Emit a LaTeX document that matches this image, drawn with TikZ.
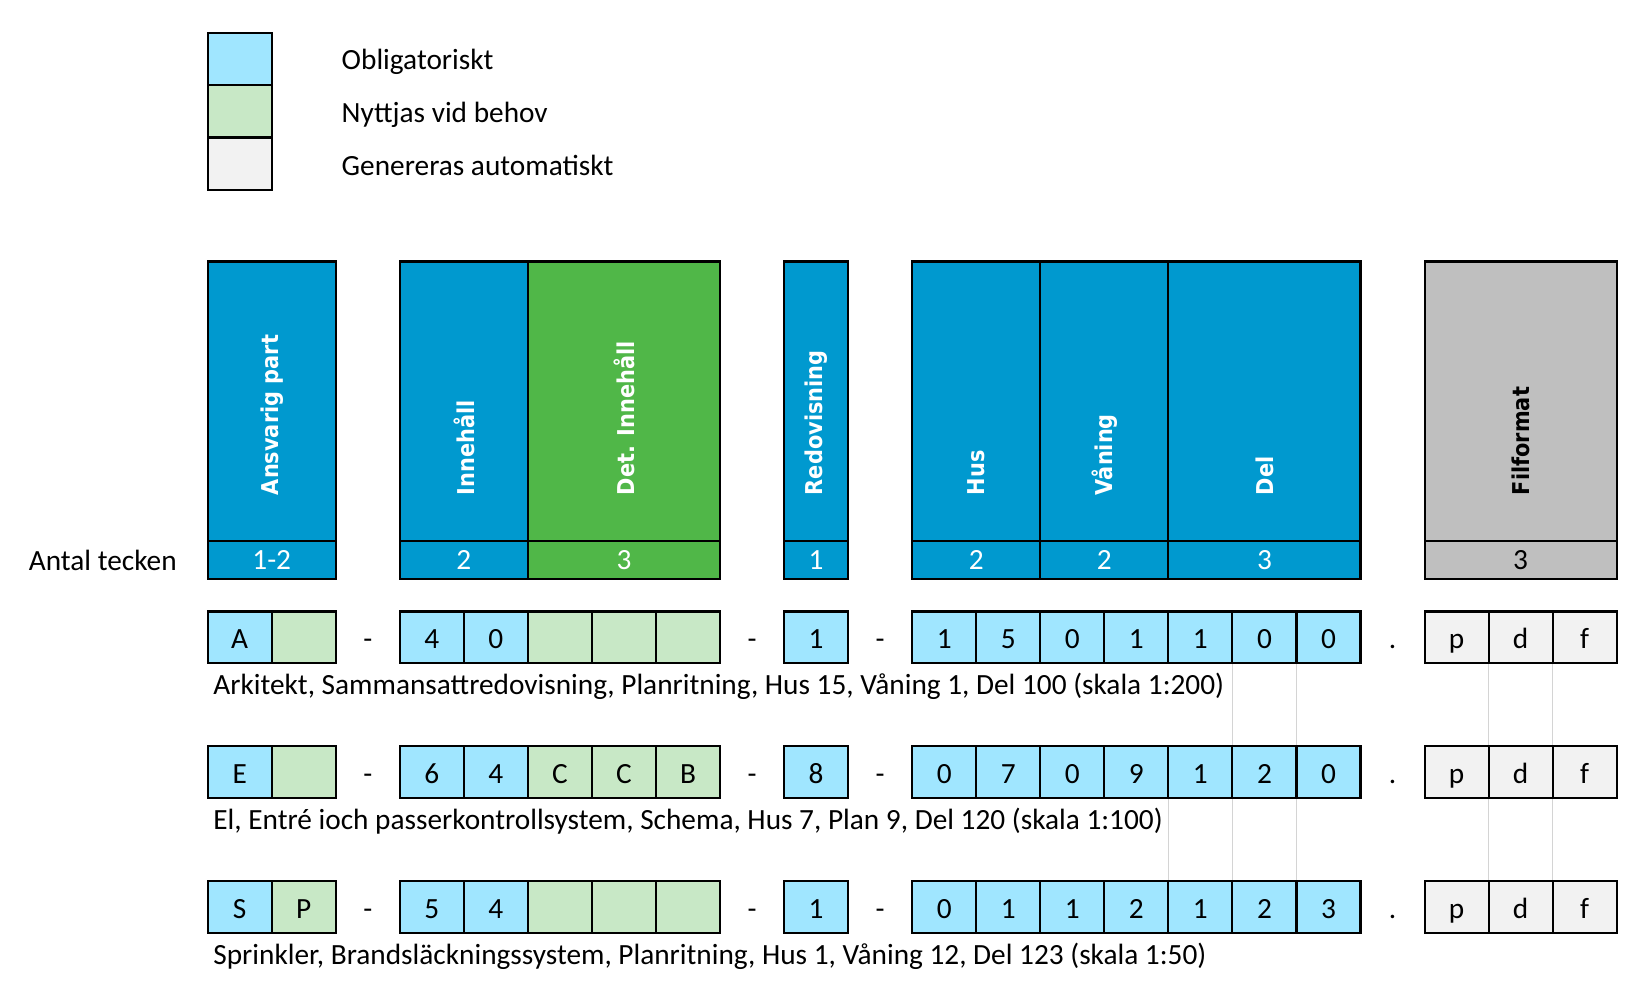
\documentclass[tikz,border=0pt]{standalone}
\usepackage{fontspec}
\setmainfont{Carlito}
\newfontfamily\hdrfont[FakeStretch=0.9]{DejaVu Sans}

\definecolor{darkblue}{RGB}{0,153,207}
\definecolor{darkgreen}{RGB}{80,183,72}
\definecolor{darkgray}{RGB}{191,191,191}
\definecolor{lightblue}{RGB}{160,230,255}
\definecolor{lightgreen}{RGB}{200,232,198}
\definecolor{lightgray}{RGB}{242,242,242}
\definecolor{gridgray}{RGB}{212,212,212}

\tikzset{
    cell/.style={draw=black, line width=1pt, minimum width=30.375pt, minimum height=24.5pt,
        inner sep=0pt, outer sep=0pt, text height=10.7pt, text depth=0pt},
    fillmand/.style={fill=lightblue},
    fillopt/.style={fill=lightgreen},
    fillgen/.style={fill=lightgray},
    hblock/.style={draw=black, line width=1pt, inner sep=0pt, outer sep=0pt,
        anchor=north west, minimum height=132.5pt},
    hcount/.style={draw=black, line width=1pt, inner sep=0pt, outer sep=0pt,
        anchor=north west, minimum height=18pt, text=white},
    hlabel/.style={rotate=90, anchor=west, inner sep=0pt, text=white,
        font=\hdrfont\bfseries\fontsize{11}{13}\selectfont},
    sepchar/.style={inner sep=0pt, text height=10.7pt, text depth=0pt},
    desc/.style={anchor=base west, inner sep=0pt},
    plain/.style={anchor=west, inner sep=0pt},
    gridln/.style={draw=gridgray, line width=0.5pt}
}

\begin{document}
\begin{tikzpicture}[x=0.5pt, y=-0.5pt, font=\fontsize{13.9}{16}\selectfont]
    \useasboundingbox (0,0) rectangle (1567,953);

    % legend
    \node[cell, fillmand, minimum height=24.85pt, anchor=north west] (leg1) at (197,31) {};
    \node[cell, fillopt, minimum height=24.85pt, anchor=north west] (leg2) at (leg1.south west) {};
    \node[cell, fillgen, minimum height=24.85pt, anchor=north west] (leg3) at (leg2.south west) {};
    \node[plain] (leg1t) at ([xshift=33pt, yshift=-1.5pt]leg1.east) {Obligatoriskt};
    \node[plain] (leg2t) at ([xshift=33pt, yshift=-1.5pt]leg2.east) {Nyttjas vid behov};
    \node[plain] (leg3t) at ([xshift=33pt, yshift=-1pt]leg3.east) {Genereras automatiskt};

    % header blocks
    \node[hblock, fill=darkblue, minimum width=60.75pt] (ansvarig) at (197,248) {};
    \node[hblock, fill=darkblue, minimum width=60.75pt] (innehall) at (379.25,248) {};
    \node[hblock, fill=darkgreen, minimum width=91.125pt] (detinnehall) at (innehall.north east) {};
    \node[hblock, fill=darkblue, minimum width=30.375pt] (redovisning) at (743.75,248) {};
    \node[hblock, fill=darkblue, minimum width=60.75pt] (hus) at (865.25,248) {};
    \node[hblock, fill=darkblue, minimum width=60.75pt] (vaning) at (hus.north east) {};
    \node[hblock, fill=darkblue, minimum width=91.125pt] (del) at (vaning.north east) {};
    \node[hblock, fill=darkgray, minimum width=91.125pt] (filformat) at (1351.25,248) {};

    \node[hlabel] (ansvarigL) at ([yshift=21.5pt]ansvarig.south) {Ansvarig part};
    \node[hlabel] (innehallL) at ([yshift=21.5pt]innehall.south) {Innehåll};
    \node[hlabel] (detinnehallL) at ([yshift=21.5pt]detinnehall.south) {Det. Innehåll};
    \node[hlabel] (redovisningL) at ([yshift=21.5pt]redovisning.south) {Redovisning};
    \node[hlabel] (husL) at ([yshift=21.5pt]hus.south) {Hus};
    \node[hlabel] (vaningL) at ([yshift=21.5pt]vaning.south) {Våning};
    \node[hlabel] (delL) at ([yshift=21.5pt]del.south) {Del};
    \node[hlabel, text=black] (filformatL) at ([yshift=21.5pt]filformat.south) {Filformat};

    % number of characters
    \node[hcount, fill=darkblue, minimum width=60.75pt] (ansvarigN) at (ansvarig.south west) {1-2};
    \node[hcount, fill=darkblue, minimum width=60.75pt] (innehallN) at (innehall.south west) {2};
    \node[hcount, fill=darkgreen, minimum width=91.125pt] (detinnehallN) at (detinnehall.south west) {3};
    \node[hcount, fill=darkblue, minimum width=30.375pt] (redovisningN) at (redovisning.south west) {1};
    \node[hcount, fill=darkblue, minimum width=60.75pt] (husN) at (hus.south west) {2};
    \node[hcount, fill=darkblue, minimum width=60.75pt] (vaningN) at (vaning.south west) {2};
    \node[hcount, fill=darkblue, minimum width=91.125pt] (delN) at (del.south west) {3};
    \node[hcount, fill=darkgray, minimum width=91.125pt, text=black] (filformatN) at (filformat.south west) {3};
    \node[plain] (antal) at (27,532) {Antal tecken};

    % gridlines between the examples
    \foreach \c in {15,16,19,20}
        \draw[gridln] (227.375+60.75*\c+30.375,629) -- (227.375+60.75*\c+30.375,708);
    \foreach \c in {14,15,16,19,20}
        \draw[gridln] (227.375+60.75*\c+30.375,757) -- (227.375+60.75*\c+30.375,836);

    % example 1
    \foreach \c/\s/\t in {0/fillmand/A, 1/fillopt/{}, 3/fillmand/4, 4/fillmand/0, 5/fillopt/{},
            6/fillopt/{}, 7/fillopt/{}, 9/fillmand/1, 11/fillmand/1, 12/fillmand/5, 13/fillmand/0,
            14/fillmand/1, 15/fillmand/1, 16/fillmand/0, 17/fillmand/0, 19/fillgen/p, 20/fillgen/d,
            21/fillgen/f}
        \node[cell, \s] (r1c\c) at (227.375+60.75*\c, 604.5) {\t};
    \foreach \c/\t in {2/-, 8/-, 10/-, 18/.}
        \node[sepchar] (r1s\c) at (227.375+60.75*\c, 604.5) {\t};
    \node[desc] (r1d) at ([xshift=2.5pt, yshift=-15pt]r1c0.south west)
        {Arkitekt, Sammansattredovisning, Planritning, Hus 15, Våning 1, Del 100 (skala 1:200)};

    % example 2
    \foreach \c/\s/\t in {0/fillmand/E, 1/fillopt/{}, 3/fillmand/6, 4/fillmand/4, 5/fillopt/C,
            6/fillopt/C, 7/fillopt/B, 9/fillmand/8, 11/fillmand/0, 12/fillmand/7, 13/fillmand/0,
            14/fillmand/9, 15/fillmand/1, 16/fillmand/2, 17/fillmand/0, 19/fillgen/p, 20/fillgen/d,
            21/fillgen/f}
        \node[cell, \s] (r2c\c) at (227.375+60.75*\c, 732.5) {\t};
    \foreach \c/\t in {2/-, 8/-, 10/-, 18/.}
        \node[sepchar] (r2s\c) at (227.375+60.75*\c, 732.5) {\t};
    \node[desc] (r2d) at ([xshift=2.5pt, yshift=-15pt]r2c0.south west)
        {El, Entré ioch passerkontrollsystem, Schema, Hus 7, Plan 9, Del 120 (skala 1:100)};

    % example 3
    \foreach \c/\s/\t in {0/fillmand/S, 1/fillopt/P, 3/fillmand/5, 4/fillmand/4, 5/fillopt/{},
            6/fillopt/{}, 7/fillopt/{}, 9/fillmand/1, 11/fillmand/0, 12/fillmand/1, 13/fillmand/1,
            14/fillmand/2, 15/fillmand/1, 16/fillmand/2, 17/fillmand/3, 19/fillgen/p, 20/fillgen/d,
            21/fillgen/f}
        \node[cell, \s] (r3c\c) at (227.375+60.75*\c, 860.5) {\t};
    \foreach \c/\t in {2/-, 8/-, 10/-, 18/.}
        \node[sepchar] (r3s\c) at (227.375+60.75*\c, 860.5) {\t};
    \node[desc] (r3d) at ([xshift=2.5pt, yshift=-15pt]r3c0.south west)
        {Sprinkler, Brandsläckningssystem, Planritning, Hus 1, Våning 12, Del 123 (skala 1:50)};
\end{tikzpicture}
\end{document}
